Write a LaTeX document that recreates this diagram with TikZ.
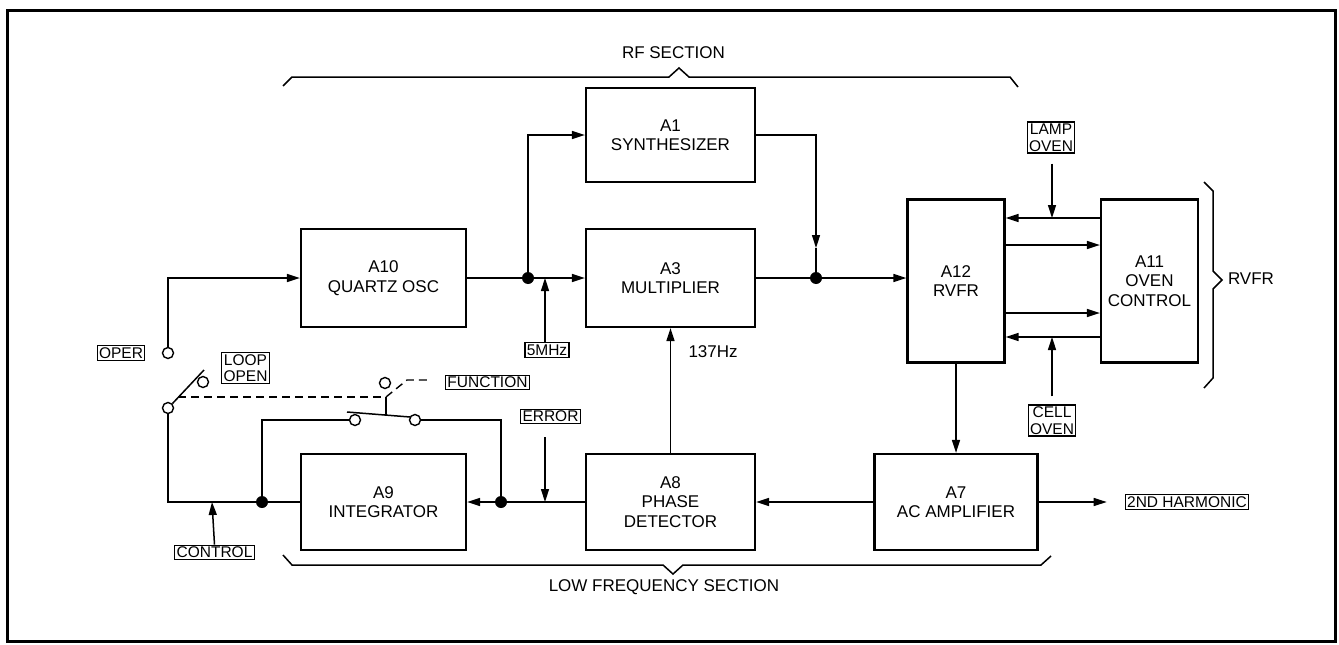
\documentclass[tikz,border=0pt]{standalone}
\usepackage{fontspec}
\setmainfont{Liberation Sans}
\usepackage{tikz}
\usetikzlibrary{arrows.meta, positioning, calc}

\newcommand{\blkfont}{\fontsize{17}{19.5}\selectfont}
\newcommand{\tagfont}{\fontsize{15.5}{16.5}\selectfont}

\begin{document}
\begin{tikzpicture}[
  x=1pt, y=-1pt,
  font=\blkfont,
  blk/.style={
    rectangle, draw, line width=2.2pt, align=center, inner sep=2pt
  },
  tagbox/.style={
    rectangle, draw, line width=1.3pt, align=center, inner sep=1.8pt, font=\tagfont
  },
  sig/.style={line width=1.5pt},
  arr/.style={-{Triangle[length=13pt,width=8pt]}, line width=1.5pt},
  jdot/.style={circle, fill, inner sep=0pt, minimum size=12pt},
  term/.style={circle, draw, fill=white, line width=1.4pt, inner sep=0pt, minimum size=11pt},
  link/.style={line width=1.4pt, dash pattern=on 8pt off 5pt},
]
\useasboundingbox (0,0) rectangle (1339,645);
\draw[line width=3pt] (7,10) rectangle (1335,641);

% RF section blocks
\node[blk, minimum width=165pt, minimum height=98pt] (A10) at (383.5,278) {A10\\QUARTZ OSC};
\node[blk, minimum width=169pt, minimum height=94pt] (A1) at (670.5,135) {A1\\SYNTHESIZER};
\node[blk, minimum width=169pt, minimum height=98pt] (A3) at (670.5,278) {A3\\MULTIPLIER};
\node[blk, minimum width=97pt, minimum height=163pt] (A12) at (956,281) {A12\\RVFR};
\node[blk, minimum width=97pt, minimum height=163pt] (A11) at (1149.5,281) {A11\\OVEN\\CONTROL};

% low frequency blocks
\node[blk, minimum width=165pt, minimum height=96pt] (A9) at (383.5,502) {A9\\INTEGRATOR};
\node[blk, minimum width=169pt, minimum height=96pt] (A8) at (670.5,502) {A8\\PHASE\\DETECTOR};
\node[blk, minimum width=163pt, minimum height=96pt] (A7) at (956,502) {A7\\AC AMPLIFIER};

% junction dots
\node[jdot] (j1) at (528,278) {};
\node[jdot] (j2) at (816,278) {};
\node[jdot] (j3) at (501,502) {};
\node[jdot] (j4) at (262,502) {};

% switch contacts
\node[term] (tOper) at (168,353) {};
\node[term] (tLoop) at (203,382) {};
\node[term] (tPiv) at (168,408) {};
\node[term] (tFn) at (385,383) {};
\node[term] (swl) at (355,420) {};
\node[term] (swr) at (415,420) {};

% boxed labels
\node[tagbox] (oper) at (121,353) {OPER};
\node[tagbox] (loop) at (245.5,368) {LOOP\\OPEN};
\node[tagbox] (mhz) at (547,350) {5MHz};
\node[tagbox] (func) at (487.5,382.5) {FUNCTION};
\node[tagbox] (err) at (550.5,416.5) {ERROR};
\node[tagbox] (ctl) at (214.5,552.5) {CONTROL};
\node[tagbox] (lamp) at (1051,137.5) {LAMP\\OVEN};
\node[tagbox] (cell) at (1052,420.5) {CELL\\OVEN};
\node[tagbox] (harm) at (1187,502) {2ND HARMONIC};

% plain labels
\node (rflbl) at (673.5,53) {RF SECTION};
\node (lflbl) at (664,587) {LOW FREQUENCY SECTION};
\node (rvlbl) at (1251,279) {RVFR};
\node[anchor=west] (hz) at (685,352) {137Hz};

% tap points
\coordinate (m5) at (545,278);
\coordinate (a1d) at (816,248);
\coordinate (errtap) at (545,502);
\coordinate (ctltap) at (212,502);
\coordinate (lamptap) at (1052,218);
\coordinate (celltap) at (1052,337);

% RF path
\draw[arr] (tOper.north) |- (A10.west);
\draw[sig] (A10.east) -- (j1);
\draw[arr] (j1) -- (A3.west);
\draw[arr] (j1) |- (A1.west);
\draw[arr] (m5 |- mhz.north) -- (m5);
\draw[arr] (A1.east) -| (a1d);
\draw[sig] (a1d) -- (j2);
\draw[sig] (A3.east) -- (j2);
\draw[arr] (j2) -- (j2 -| A12.west);

% RVFR <-> oven control
\draw[arr] ([yshift=63pt]A11.west) -- ([yshift=63pt]A12.east);
\draw[arr] ([yshift=36pt]A12.east) -- ([yshift=36pt]A11.west);
\draw[arr] ([yshift=-32pt]A12.east) -- ([yshift=-32pt]A11.west);
\draw[arr] ([yshift=-56pt]A11.west) -- ([yshift=-56pt]A12.east);
\draw[arr] (lamptap |- lamp.south) ++(0,10) -- (lamptap);
\draw[arr] (celltap |- cell.north) ++(0,-8) -- (celltap);

% low frequency path
\draw[arr] (A12.south) -- (A7.north);
\draw[arr] (A7.west) -- (A8.east);
\draw[arr] (A7.east) -- ([xshift=-18pt]harm.west);
\draw[arr] (A8.north) -- (A3.south);
\draw[sig] (A8.west) -- (j3);
\draw[arr] (j3) -- (A9.east);
\draw[arr] (errtap |- err.south) ++(0,13) -- (errtap);
\draw[sig] (j4) -- (A9.west);
\draw[sig] (j3) |- (swr.east);
\draw[sig] (j4) |- (swl.west);
\draw[sig] (tPiv.south) |- (j4);
\draw[arr] (ctl.north) -- (ctltap);

% switch blades and mechanical link
\draw[sig] (tPiv.north east) -- (204,370);
\draw[sig] (347,412) -- (410,417);
\draw[link] (178,397) -- (386,397);
\draw[sig] (386,397) -- (386,415);
\draw[link] (386,397) -- (407,380) -- (428,380);

% section braces
\draw[sig] (283,86) -- (292,77) -- (669,77) -- (679,68) -- (689,77) -- (1010,77) -- (1018,87);
\draw[sig] (283,555) -- (292,565) -- (663,565) -- (673,574) -- (683,565) -- (1041,565) -- (1051,556);
\draw[sig] (1204,182) -- (1213,191) -- (1213,271) -- (1222,280) -- (1213,289) -- (1213,378) -- (1204,388);
\end{tikzpicture}
\end{document}
